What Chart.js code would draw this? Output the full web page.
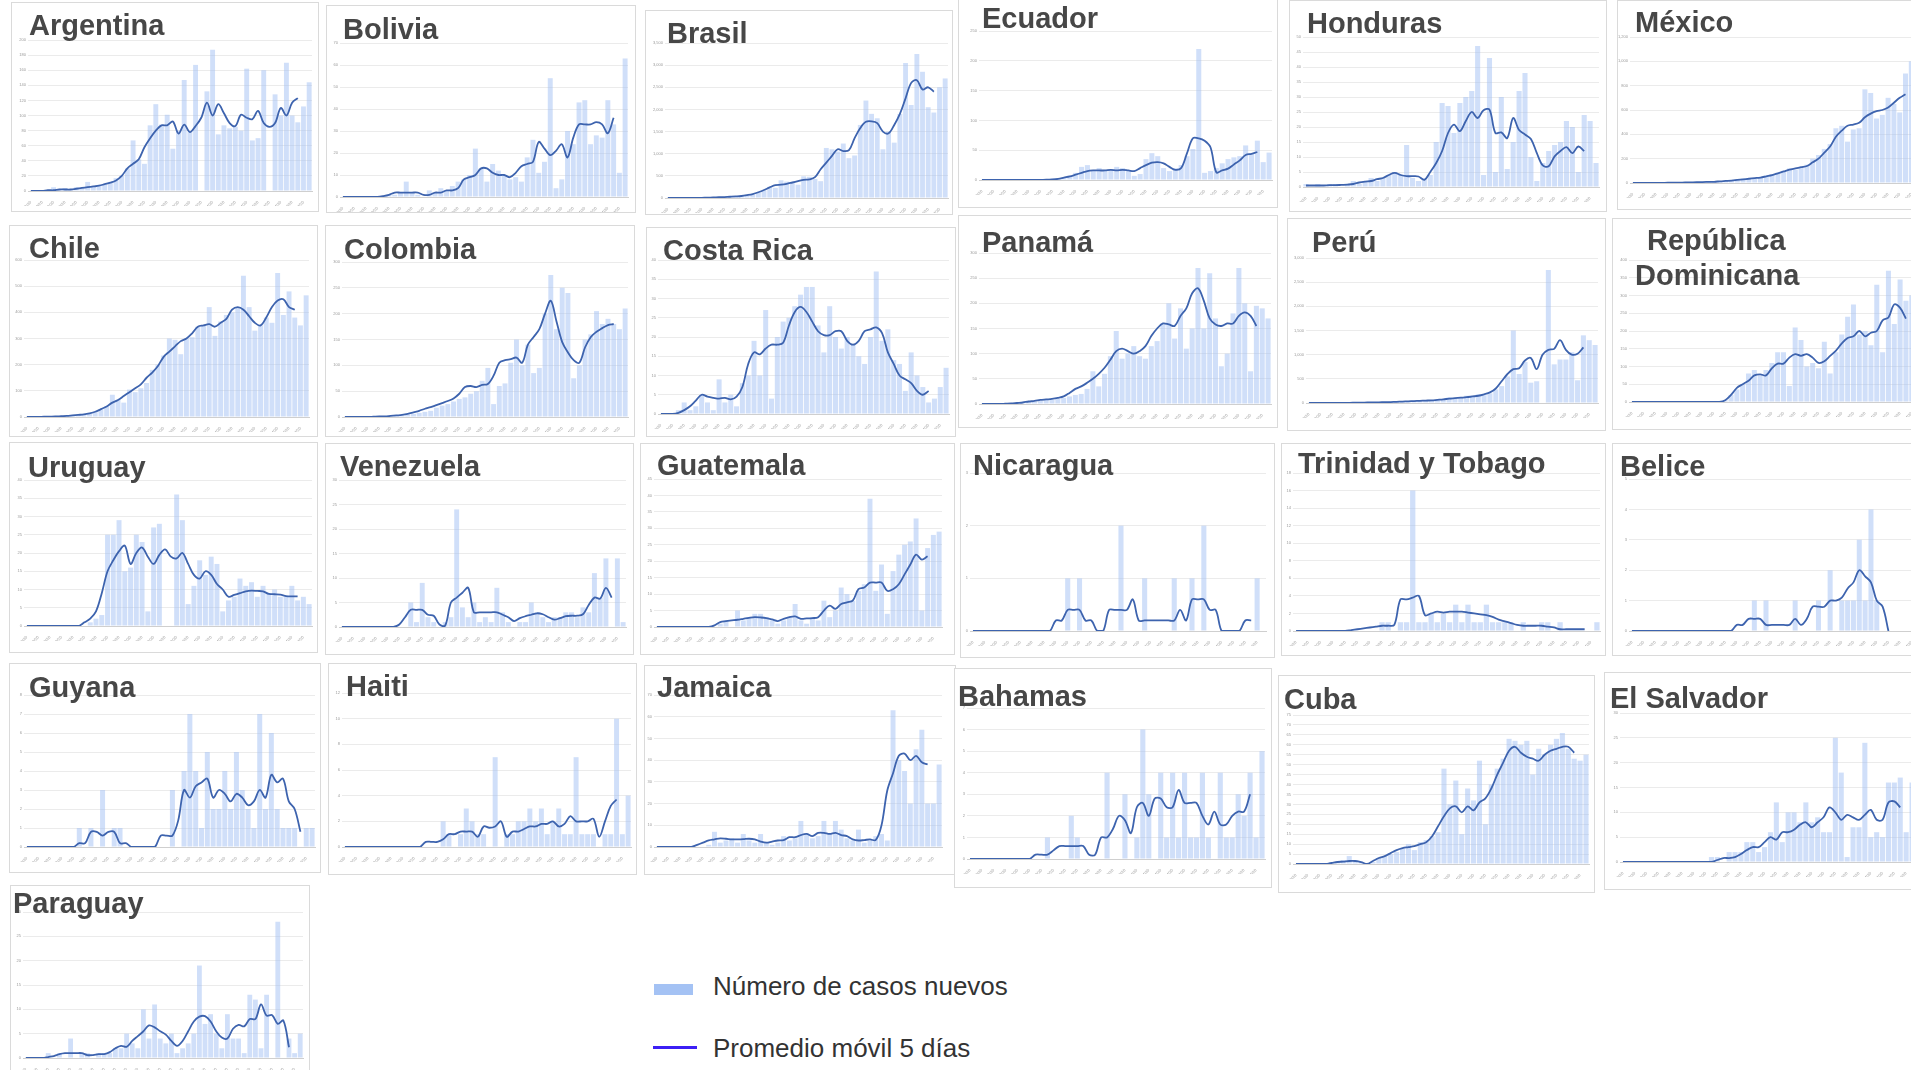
<!DOCTYPE html>
<html lang="es">
<head>
<meta charset="utf-8">
<title>Casos nuevos por país</title>
<script src="https://cdn.jsdelivr.net/npm/chart.js@4.4.1/dist/chart.umd.min.js"></script>
<style>
  html, body { margin: 0; padding: 0; background: #fff; }
  body { width: 1911px; height: 1070px; overflow: hidden; position: relative; font-family: 'Liberation Sans', Arial, sans-serif; }
  .panel { position: absolute; background: #fff; outline: 1px solid #dadada; outline-offset: -1px; }
  .panel canvas { position: absolute; left: 0; top: 0; }
  .titulo { position: absolute; font-weight: bold; font-size: 29px; line-height: 29px; color: #474747; white-space: nowrap; }
  .muestra { position: absolute; }
  .texto-leyenda { position: absolute; font-size: 26px; line-height: 26px; color: #333; white-space: nowrap; }
</style>
</head>
<body>
<div class="muestra" style="left:654px; top:984px; width:39px; height:11px; background:#a4c2f4;"></div>
<div class="texto-leyenda" style="left:713px; top:973px;">Número de casos nuevos</div>
<div class="muestra" style="left:653px; top:1046px; width:44px; height:3px; background:#3c1ff5;"></div>
<div class="texto-leyenda" style="left:713px; top:1035px;">Promedio móvil 5 días</div>
<script>
// Fechas (una por barra)
const fechas = ['4/3/20','5/3/20','6/3/20','7/3/20','8/3/20','9/3/20','10/3/20','11/3/20','12/3/20','13/3/20',
  '14/3/20','15/3/20','16/3/20','17/3/20','18/3/20','19/3/20','20/3/20','21/3/20','22/3/20','23/3/20',
  '24/3/20','25/3/20','26/3/20','27/3/20','28/3/20','29/3/20','30/3/20','31/3/20','1/4/20','2/4/20',
  '3/4/20','4/4/20','5/4/20','6/4/20','7/4/20','8/4/20','9/4/20','10/4/20','11/4/20','12/4/20',
  '13/4/20','14/4/20','15/4/20','16/4/20','17/4/20','18/4/20','19/4/20','20/4/20','21/4/20','22/4/20'];

// Casos nuevos diarios y promedio móvil de 5 días
const argentinaCasos = [0,0,1,1,5,2,4,2,5,4, 12,6,8,9,12,17,20,30,67,42, 36,87,115,88,101,56,80,147,78,167, 0,132,187,75,87,83,85,80,162,67, 70,160,0,128,100,170,100,91,112,144];
const argentinaMedia = [0,0,0,1,1,2,2,2,3,4, 5,6,7,9,11,14,20,30,36,42, 58,70,80,87,87,92,76,88,78,86, 97,117,100,115,103,90,86,101,97,95, 106,90,85,90,110,100,117,123,null,null];

const boliviaCasos = [0,0,0,0,0,0,0,0,1,1, 2,7,2,1,0,3,2,4,3,5, 7,8,10,22,13,7,15,12,10,8, 9,7,18,26,11,16,54,4,8,30, 24,43,44,24,28,27,44,33,11,63];
const boliviaMedia = [0,0,0,0,0,0,0,0.4,1,2, 2,2,2,2,1,1,2,2,3,3, 4,8,9,10,13,13,11,10,10,9, 11,14,15,16,25,22,19,21,24,18, 27,33,33,33,34,33,29,36,null,null];

const brasilCasos = [0,0,0,1,1,3,5,8,10,20, 25,30,40,50,60,80,120,170,250,230, 400,370,350,300,490,480,430,380,1130,1100, 1050,1230,900,960,1650,2200,1900,1800,1100,1500, 1250,1900,3050,2100,3250,2850,2050,1930,2500,2700];
const brasilMedia = [0,0,0,1,2,3,5,8,12,17, 22,28,35,45,65,90,130,180,240,290, 300,320,350,380,410,420,470,650,800,950, 1100,1060,1080,1350,1580,1720,1730,1690,1500,1460, 1650,1900,2250,2600,2660,2450,2500,2400,null,null];

const ecuadorCasos = [0,0,0,0,0,0,0,0,0,0, 0,1,2,3,4,6,12,22,25,15, 20,17,18,22,20,15,7,10,35,45, 40,20,15,20,25,40,52,220,12,15, 20,28,35,38,40,58,45,66,30,46];
const ecuadorMedia = [0,0,0,0,0,0,0,0,0,0, 0.3,0.5,1,2,4,6,9,12,15,16, 16,16,17,16,17,16,15,20,25,29, 30,28,22,17,20,45,70,70,66,55, 13,16,19,26,33,42,44,47,null,null];

const hondurasCasos = [1,0,1,0,1,1,0,1,2,1, 2,3,2,3,4,5,4,14,3,2, 3,4,15,28,27,18,28,30,32,47, 4,43,5,30,6,15,32,38,10,2, 8,12,14,15,22,20,5,24,22,8];
const hondurasMedia = [0.5,0.5,0.5,0.5,0.6,0.6,0.7,0.8,1,1.5, 1.8,2,2.6,3,4,4.7,4,3.6,3.6,3.5, 2.4,5,8,12,18,20.8,18.6,22,25,23, 25.6,25.8,18,18.2,16.3,23,19,17.5,16,11.3, 7.2,6.9,10.2,12,13.3,11.3,13.5,12,null,null];

const mexicoCasos = [0,0,0,1,0,2,1,3,4,5, 4,7,6,12,12,15,20,22,30,35, 40,38,50,60,70,85,100,120,110,130, 150,200,230,280,320,450,470,340,440,450, 770,740,530,560,700,650,580,900,1000,1000];
const mexicoMedia = [0,0,0,0,1,1,2,2,3,4, 5,6,8,9,10,14,17,20,25,30, 35,40,45,55,65,80,95,110,120,130, 140,170,200,250,300,380,430,470,480,495, 540,570,590,600,620,660,700,730,null,null];

const chileCasos = [0,0,1,1,2,3,3,5,6,8, 10,12,18,30,40,85,65,55,105,95, 110,130,180,200,235,300,295,240,300,305, 345,350,420,310,365,390,400,420,540,420, 330,350,380,360,550,390,480,380,350,465];
const chileMedia = [0,0,0.5,1,1.5,2,3,4,6,8, 10,14,20,30,40,55,65,80,95,110, 125,150,170,195,230,250,270,290,300,320, 345,350,355,345,360,375,410,420,410,385, 360,350,380,420,445,450,420,410,null,null];

const colombiaCasos = [0,0,0,1,0,0,0,0,1,2, 3,5,6,8,10,12,18,22,25,30, 35,38,45,50,70,95,25,60,65,105, 150,100,140,85,95,200,275,170,250,240, 75,100,150,160,205,180,190,180,170,210];
const colombiaMedia = [0,0,0,0,0,0.5,1,1,2,3, 4,6,9,12,16,19,23,27,31,36, 45,58,60,58,62,64,80,105,110,112, 115,105,140,155,170,200,225,185,145,125, 110,105,135,155,165,172,178,180,null,null];

const costaRicaCasos = [0,0,0,1,3,1,2,5,3,1, 9,3,5,2,8,10,19,10,27,4, 20,24,25,28,31,33,33,23,16,28, 20,17,20,18,15,13,20,37,19,22, 14,13,6,16,10,7,3,4,7,12];
const costaRicaMedia = [0,0,0,0.3,1,2,3.5,5,4.5,4.2, 4,4.2,3.8,4.5,7,13,16,15.5,17,18, 18,18.5,23,26.5,27.8,26.5,24,21.5,20.5,20.5, 21.5,21.5,19,18,19,21.5,22,22.5,21,16, 13,10,9,8,6,5,6,null,null,null];

const panamaCasos = [0,0,0,0,0,1,2,3,4,5, 6,8,8,10,12,15,18,20,30,65, 35,60,95,145,90,100,115,95,90,115, 125,160,200,130,190,110,150,270,150,260, 170,75,100,180,270,200,65,195,190,170];
const panamaMedia = [0,0,0,0,0.5,1,2,3,5,6, 8,9,10,12,15,22,30,35,42,50, 60,72,88,105,110,105,100,105,115,135, 150,160,158,155,175,190,220,230,205,170, 158,155,160,160,175,182,175,155,null,null];

const peruCasos = [0,0,0,1,2,3,5,6,8,10, 12,15,18,20,25,30,35,40,45,50, 60,55,70,80,120,100,110,150,130,180, 160,200,280,350,550,1500,600,850,420,450, 0,2750,800,900,900,1050,470,1400,1300,1200];
const peruMedia = [0,0,0,1,1,2,3,4,6,8, 10,12,14,17,20,25,30,35,40,45, 50,55,65,75,90,100,110,120,135,150, 180,220,300,450,600,700,720,880,930,700, 1000,1100,1120,1300,1100,1000,1020,1150,null,null];

const rdCasos = [0,0,0,1,0,1,0,0,2,0, 1,2,1,2,1,2,5,20,35,50, 80,90,75,90,110,140,140,45,210,175, 100,110,95,170,80,140,190,240,275,190, 200,160,330,140,370,220,345,285,300,280];
const rdMedia = [0,0,0,0,0,0,0,0,0,0, 0,0,0,0,0,0,5,20,40,50, 60,75,78,75,95,108,108,125,135,130, 135,125,110,115,130,145,165,180,185,200, 185,195,200,230,238,275,265,235,null,null];

const uruguayCasos = [0,0,0,0,0,0,0,0,0,0, 0,1,2,3,25,25,29,15,16,25, 23,4,27,28,0,0,36,29,6,11, 18,14,19,17,4,7,8,13,11,12, 8,11,9,10,8,8,11,7,8,6];
const uruguayMedia = [0,0,0,0,0,0,0,0,0,0, 1,2,4,9,15,18,20.5,22,17,20, 21.5,19,17,19.5,21,19,18.5,20,17,14, 13,15,14,11.5,10,8,8.5,9,9.5,9.7, 9.6,9.5,8.8,8.7,8.6,8.2,8.1,8.1,null,null];

const venezuelaCasos = [0,0,0,0,0,0,0,0,0,0, 0,0,5,1,9,2,1,0,1,2, 24,4,2,5,1,2,1,8,3,1, 0,1,1,5,3,2,1,2,2,3, 3,2,4,3,11,6,14,0,14,1];
const venezuelaMedia = [0,0,0,0,0,0,0,0,0,0, 0.5,2,3.5,3.5,3.5,2.5,2.3,0.5,0.3,5, 6,7,8,3,3,3,3,3,2.5,2, 1.2,1.8,2.2,2.5,2.8,2.6,2,1.5,1.8,2.2, 2.3,2.3,2.6,4.5,6,5.8,8,6,null,null];

const guatemalaCasos = [0,0,0,0,0,0,0,0,0,0, 0,1,2,0,5,2,3,4,4,3, 2,1,2,3,7,2,1,3,2,8, 3,5,12,10,8,11,13,39,11,19, 4,17,22,25,26,33,5,24,28,29];
const guatemalaMedia = [0,0,0,0,0,0,0,0,0,0, 0.5,1.5,1.8,2,2.2,2.5,2.8,3,2.9,2.7, 2.3,1.8,2.5,3,3.2,2.5,2.6,2.7,3,5, 6.5,5.5,7,7.5,8,11.5,12,13.5,13.5,13.5, 11,11.5,13,16,19,22,20.5,21.5,null,null];

const nicaraguaCasos = [0,0,0,0,0,0,0,0,0,0, 0,0,0,0,0,0,1,0,1,0, 0,0,0,0,0,2,0,0,0,1, 0,0,0,0,1,0,0,1,0,2, 0,0,0,0,0,0,0,0,1,0];
const nicaraguaMedia = [0,0,0,0,0,0,0,0,0,0, 0,0,0,0,0.2,0.2,0.4,0.4,0.4,0.2, 0.2,0,0,0.4,0.4,0.4,0.4,0.6,0.2,0.2, 0.2,0.2,0.2,0.2,0.2,0.4,0.2,0.6,0.6,0.6, 0.4,0.4,0,0,0,0,0.2,0.2,null,null];

const trinidadCasos = [0,0,0,0,0,0,0,0,0,0, 0,0,0,0,1,1,0,1,1,16, 1,1,2,1,2,1,3,1,3,1, 1,3,1,1,1,1,0,1,0,0, 1,1,0,1,0,0,0,0,0,1];
const trinidadMedia = [0,0,0,0,0,0,0,0,0,0.1, 0.2,0.3,0.4,0.5,0.6,0.6,0.7,3.6,3.6,3.8, 4,1.8,2,2.2,2.1,2.2,2.2,2.2,2.1,2, 1.9,1.8,1.6,1.3,1.1,0.9,0.7,0.6,0.6,0.6, 0.6,0.5,0.4,0.2,0.2,0.2,0.2,0.2,null,null];

const beliceCasos = [0,0,0,0,0,0,0,0,0,0, 0,0,0,0,0,0,0,0,0,0, 0,1,0,1,0,0,0,0,1,0, 0,0,1,0,2,0,1,1,1,3, 1,4,1,0,0,0,0,0,0,0];
const beliceMedia = [0,0,0,0,0,0,0,0,0,0, 0,0,0,0,0,0,0,0,0.2,0.2, 0.4,0.4,0.4,0.2,0.2,0.2,0.2,0.2,0.4,0.2, 0.4,0.8,0.8,0.8,1,1,1.1,1.4,1.6,2, 1.8,1.6,1,0.8,0,null,null,null,null,null];

const guyanaCasos = [0,0,0,0,0,0,0,0,0,1, 0,1,0,3,0,1,1,0,0,0, 0,0,0,0,0,3,0,4,7,4, 1,5,2,2,4,2,5,3,2,1, 7,2,6,2,1,1,1,0,1,1];
const guyanaMedia = [0,0,0,0,0,0,0,0,0,0.2, 0.2,0.8,0.8,0.6,0.8,0.8,0.2,0.2,0,0, 0,0,0,0.6,0.6,0.6,1.4,3,2.6,3.2, 3.4,3.6,2.6,3,2.8,2.4,2.8,2.6,2.2,2.4, 3,2.6,3.8,3.4,3.6,2.4,2,0.8,null,null];

const haitiCasos = [0,0,0,0,0,0,0,0,0,0, 0,0,0,0,0,0,0,2,1,0, 1,3,2,1,1,0,7,0,1,1, 2,2,3,2,3,1,2,3,1,1, 7,1,1,1,0,1,1,10,1,4];
const haitiMedia = [0,0,0,0,0,0,0,0,0,0, 0,0,0,0,0.4,0.4,0.4,0.6,1,1, 1.2,1.2,1.2,0.8,1.6,1.5,1.6,2,0.8,1.2, 1.2,1.4,1.6,1.6,1.8,1.8,2,1.6,1.8,2.4, 2,2,2,2.2,0.8,2,3.2,3.7,null,null];

const jamaicaCasos = [0,0,0,0,0,0,0,0,0,1, 7,2,3,4,2,6,3,2,6,2, 1,2,5,3,4,12,6,4,5,12, 6,12,8,4,3,8,2,3,5,6, 3,63,40,35,20,45,54,20,20,38];
const jamaicaMedia = [0,0,0,0,0,0,0,1,2,3, 3.5,4,3.8,3.5,3.5,3.6,3.8,3.5,2.5,2, 2.5,3,3.2,4.5,4.5,5.5,6,5,6.5,6.5, 6,6.5,5.5,5,3.5,3,3.2,3.5,3.2,10, 26,34,42,43,40,42,39,38,null,null];

const bahamasCasos = [0,0,0,0,0,0,0,0,0,0, 0,0,0,1,0,0,0,2,1,0, 0,0,0,4,0,0,3,0,1,6, 3,0,4,1,4,1,4,1,1,4, 1,0,4,1,1,3,2,4,1,5];
const bahamasMedia = [0,0,0,0,0,0,0,0,0,0, 0,0.2,0.2,0.2,0.4,0.6,0.6,0.6,0.6,0.6, 0.2,0.2,1,1,1.4,2,1.8,1.2,2.4,2.6, 2,2.8,2.8,2.4,2.4,3.2,2.6,2.6,2.6,2, 1.6,2.2,1.6,1.6,2,2.2,2.2,3,null,null];

const cubaCasos = [0,0,0,0,0,0,1,1,2,4, 2,1,0,1,3,4,5,6,8,10, 7,11,12,14,16,48,30,42,15,38, 32,52,20,40,48,53,63,62,60,62, 45,58,55,60,63,66,58,53,52,55];
const cubaMedia = [0,0,0,0,0,0,0.5,1,1.2,1.5, 1.5,1,0,1.5,3,4,5.5,7,8,8.5, 9,10,11,14,19,24,28,29,26,29, 27,31,33,38,45,51,57,59,56,54, 53,52,55,57,58,59,59,56,null,null];

const salvadorCasos = [0,0,0,0,0,0,0,0,0,0, 0,0,0,0,0,1,1,0,2,2, 2,4,4,2,3,6,12,4,10,10, 8,12,8,9,6,6,25,18,1,7, 7,24,5,6,5,16,16,17,6,16];
const salvadorMedia = [0,0,0,0,0,0,0,0,0,0, 0,0,0,0,0,0,0.4,0.8,0.8,1, 1.6,2.4,3,3,4,5,4.5,6,6,6.5, 7.5,8,7,8,9,11,10,8.5,9.5,9, 8.5,9.5,10.5,8.5,8.5,12,12.2,11,null,null];

const paraguayCasos = [0,0,0,0,1,0,1,0,4,0, 1,1,0,1,1,1,2,2,5,3, 2,10,4,11,4,3,5,1,2,3, 5,19,7,9,5,2,9,4,4,1, 13,12,2,13,0,28,0,4,1,5];
const paraguayMedia = [0,0,0,0,0.2,0.4,0.8,1,1,1, 1,0.6,0.6,0.8,0.8,1.2,2,2.5,2.3,3.5, 4.5,5.5,6.7,6.3,5.5,4.8,3.5,2.5,3.5,5.5, 7.5,8.5,8.6,7.5,5.5,4.2,4,6,6.8,6.5, 8,8,11,8.7,8.8,7,7.7,2.2,null,null];

// País, series y escala del eje Y (máximo y paso)
const paises = [
  { nombre: 'Argentina', casos: argentinaCasos, media: argentinaMedia, max: 200, paso: 20 },
  { nombre: 'Bolivia', casos: boliviaCasos, media: boliviaMedia, max: 70, paso: 10 },
  { nombre: 'Brasil', casos: brasilCasos, media: brasilMedia, max: 3500, paso: 500 },
  { nombre: 'Ecuador', casos: ecuadorCasos, media: ecuadorMedia, max: 250, paso: 50 },
  { nombre: 'Honduras', casos: hondurasCasos, media: hondurasMedia, max: 50, paso: 5 },
  { nombre: 'México', casos: mexicoCasos, media: mexicoMedia, max: 1200, paso: 200 },
  { nombre: 'Chile', casos: chileCasos, media: chileMedia, max: 600, paso: 100 },
  { nombre: 'Colombia', casos: colombiaCasos, media: colombiaMedia, max: 300, paso: 50 },
  { nombre: 'Costa Rica', casos: costaRicaCasos, media: costaRicaMedia, max: 40, paso: 5 },
  { nombre: 'Panamá', casos: panamaCasos, media: panamaMedia, max: 300, paso: 50 },
  { nombre: 'Perú', casos: peruCasos, media: peruMedia, max: 3000, paso: 500 },
  { nombre: 'República Dominicana', casos: rdCasos, media: rdMedia, max: 400, paso: 50 },
  { nombre: 'Uruguay', casos: uruguayCasos, media: uruguayMedia, max: 40, paso: 5 },
  { nombre: 'Venezuela', casos: venezuelaCasos, media: venezuelaMedia, max: 30, paso: 5 },
  { nombre: 'Guatemala', casos: guatemalaCasos, media: guatemalaMedia, max: 45, paso: 5 },
  { nombre: 'Nicaragua', casos: nicaraguaCasos, media: nicaraguaMedia, max: 3, paso: 1 },
  { nombre: 'Trinidad y Tobago', casos: trinidadCasos, media: trinidadMedia, max: 18, paso: 2 },
  { nombre: 'Belice', casos: beliceCasos, media: beliceMedia, max: 5, paso: 1 },
  { nombre: 'Guyana', casos: guyanaCasos, media: guyanaMedia, max: 8, paso: 1 },
  { nombre: 'Haiti', casos: haitiCasos, media: haitiMedia, max: 12, paso: 2 },
  { nombre: 'Jamaica', casos: jamaicaCasos, media: jamaicaMedia, max: 70, paso: 10 },
  { nombre: 'Bahamas', casos: bahamasCasos, media: bahamasMedia, max: 7, paso: 1 },
  { nombre: 'Cuba', casos: cubaCasos, media: cubaMedia, max: 75, paso: 5 },
  { nombre: 'El Salvador', casos: salvadorCasos, media: salvadorMedia, max: 30, paso: 5 },
  { nombre: 'Paraguay', casos: paraguayCasos, media: paraguayMedia, max: 30, paso: 5 }
];

// Posición de cada recuadro: marco [x, y, ancho, alto], área de trazado, y título [x, línea base]
const posiciones = {
  'Argentina': { marco: [11, 2, 308, 210], area: [28, 40, 284, 151], titulo: [[29, 35]] },
  'Bolivia': { marco: [326, 5, 310, 208], area: [340, 43, 288, 154], titulo: [[343, 39]] },
  'Brasil': { marco: [645, 10, 308, 205], area: [665, 43, 283, 155], titulo: [[667, 43]] },
  'Ecuador': { marco: [958, -2, 320, 210], area: [979, 31, 293, 149], titulo: [[982, 28]] },
  'Honduras': { marco: [1289, 0, 318, 212], area: [1303, 37, 296, 150], titulo: [[1307, 33]] },
  'México': { marco: [1617, 0, 310, 210], area: [1630, 37, 290, 146], titulo: [[1635, 32]] },
  'Chile': { marco: [9, 225, 309, 212], area: [24, 260, 285, 157], titulo: [[29, 258]] },
  'Colombia': { marco: [325, 225, 310, 212], area: [342, 262, 286, 155], titulo: [[344, 259]] },
  'Costa Rica': { marco: [646, 227, 310, 210], area: [658, 260, 291, 154], titulo: [[663, 260]] },
  'Panamá': { marco: [958, 215, 320, 213], area: [979, 253, 292, 151], titulo: [[982, 252]] },
  'Perú': { marco: [1287, 218, 319, 213], area: [1306, 258, 292, 145], titulo: [[1312, 252]] },
  'República Dominicana': { marco: [1612, 218, 310, 212], area: [1629, 260, 292, 142], titulo: [[1647, 250], [1635, 285]] },
  'Uruguay': { marco: [9, 442, 309, 211], area: [24, 480, 288, 146], titulo: [[28, 477]] },
  'Venezuela': { marco: [325, 443, 309, 212], area: [339, 480, 287, 147], titulo: [[340, 476]] },
  'Guatemala': { marco: [640, 443, 315, 212], area: [654, 479, 288, 148], titulo: [[657, 475]] },
  'Nicaragua': { marco: [960, 443, 315, 215], area: [970, 473, 296, 158], titulo: [[973, 475]] },
  'Trinidad y Tobago': { marco: [1281, 443, 325, 213], area: [1293, 473, 307, 158], titulo: [[1298, 473]] },
  'Belice': { marco: [1612, 443, 310, 213], area: [1629, 479, 292, 152], titulo: [[1620, 476]] },
  'Guyana': { marco: [9, 663, 312, 210], area: [24, 695, 291, 152], titulo: [[29, 697]] },
  'Haiti': { marco: [328, 663, 309, 212], area: [342, 693, 289, 154], titulo: [[346, 696]] },
  'Jamaica': { marco: [644, 665, 312, 210], area: [654, 695, 288, 152], titulo: [[657, 697]] },
  'Bahamas': { marco: [954, 668, 318, 220], area: [967, 708, 298, 151], titulo: [[958, 706]] },
  'Cuba': { marco: [1278, 675, 317, 218], area: [1293, 715, 296, 149], titulo: [[1284, 709]] },
  'El Salvador': { marco: [1604, 672, 320, 218], area: [1620, 713, 295, 149], titulo: [[1610, 708]] },
  'Paraguay': { marco: [10, 885, 300, 200], area: [23, 912, 280, 146], titulo: [[13, 913]] }
};

const COLOR_BARRA = 'rgba(164, 194, 244, 0.52)';
const COLOR_LINEA = '#3d63ae';
const ANCHO_Y = 12;
const ALTO_X = 15;

Chart.defaults.font.family = "'Liberation Sans', Arial, sans-serif";

// Dibuja un recuadro con barras y media móvil
const dibujarPanel = (pais) => {
    const pos = posiciones[pais.nombre];
    const [fx, fy, fw, fh] = pos.marco;
    const [ax, ay, aw, ah] = pos.area;

    const panel = document.createElement('div');
    panel.className = 'panel';
    panel.style.left = fx + 'px';
    panel.style.top = fy + 'px';
    panel.style.width = fw + 'px';
    panel.style.height = fh + 'px';
    const canvas = document.createElement('canvas');
    canvas.width = fw;
    canvas.height = fh;
    panel.appendChild(canvas);
    document.body.appendChild(panel);

    const anchoY = Math.min(ANCHO_Y, ax - fx);

    new Chart(canvas, {
        type: 'bar',
        data: {
            labels: fechas,
            datasets: [
                {
                    type: 'line',
                    label: 'Promedio móvil 5 días',
                    data: pais.media,
                    borderColor: COLOR_LINEA,
                    borderWidth: 1.8,
                    pointRadius: 0,
                    tension: 0.35,
                    order: 0
                },
                {
                    type: 'bar',
                    label: 'Número de casos nuevos',
                    data: pais.casos,
                    backgroundColor: COLOR_BARRA,
                    barPercentage: 0.86,
                    categoryPercentage: 1,
                    order: 1
                }
            ]
        },
        options: {
            responsive: false,
            animation: false,
            layout: {
                padding: {
                    left: ax - fx - anchoY,
                    top: ay - fy,
                    right: fx + fw - ax - aw,
                    bottom: fy + fh - ay - ah - ALTO_X
                }
            },
            plugins: {
                legend: { display: false },
                tooltip: { enabled: false }
            },
            scales: {
                x: {
                    grid: { display: false },
                    border: { color: '#cfcfcf' },
                    ticks: {
                        font: { size: 4 },
                        color: '#9a9a9a',
                        autoSkip: false,
                        minRotation: 45,
                        maxRotation: 45,
                        padding: 1,
                        callback: (valor, i) => (i % 2 === 0 ? fechas[i] : '')
                    },
                    afterFit: (escala) => { escala.height = ALTO_X; }
                },
                y: {
                    min: 0,
                    max: pais.max,
                    grid: { color: '#ebebeb', drawTicks: false },
                    border: { display: false },
                    ticks: {
                        stepSize: pais.paso,
                        font: { size: 4 },
                        color: '#9a9a9a',
                        padding: 2
                    },
                    afterFit: (escala) => { escala.width = anchoY; }
                }
            }
        }
    });
};

paises.forEach(dibujarPanel);

// Títulos encima de los gráficos
paises.forEach((pais) => {
    const lineas = posiciones[pais.nombre].titulo;
    const textos = lineas.length > 1 ? pais.nombre.split(' ') : [pais.nombre];
    lineas.forEach(([x, base], k) => {
        const t = document.createElement('div');
        t.className = 'titulo';
        t.textContent = textos[k];
        t.style.left = x + 'px';
        t.style.top = (base - 24.5) + 'px';
        document.body.appendChild(t);
    });
});
</script>
</body>
</html>
